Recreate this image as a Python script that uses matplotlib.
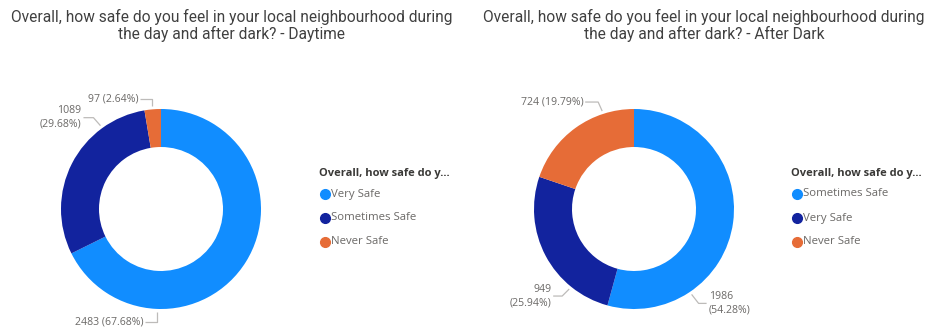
import numpy as np
import matplotlib
matplotlib.use("Agg")
import matplotlib.pyplot as plt
from matplotlib.lines import Line2D

# survey answers, one donut per time of day
day_labels = ["Very Safe", "Sometimes Safe", "Never Safe"]
day_counts = [2483, 1089, 97]

dark_labels = ["Sometimes Safe", "Very Safe", "Never Safe"]
dark_counts = [1986, 949, 724]

colors = ["#118DFF", "#12239E", "#E66C37"]
title_base = "Overall, how safe do you feel in your local neighbourhood during\nthe day and after dark? - "
legend_title = "Overall, how safe do y..."

# leader lines: anchor angle on the ring, elbow offset, tail length, two-line label?
day_leaders = [(268, (0.0, -0.10), -0.12, False),
               (126, (-0.07, 0.08), -0.10, True),
               (95, (0.0, 0.07), -0.12, False)]
dark_leaders = [(304, (0.07, -0.09), 0.08, True),
                (231, (-0.07, -0.07), -0.09, True),
                (108, (-0.04, 0.09), -0.13, False)]

W, H = 931, 331
fig = plt.figure(figsize=(W / 100, H / 100), dpi=100)

label_font = "Open Sans"
grey = "#6B6967"
line_grey = "#BDBBB9"


def donut(cx, cy, counts, leaders):
    # 300px square axes, data range +-1.5 -> 100px per unit
    ax = fig.add_axes([(cx - 150) / W, 1 - (cy + 150) / H, 300 / W, 300 / H])
    ax.pie(counts, colors=colors, startangle=90, counterclock=False,
           radius=1.0, wedgeprops=dict(width=0.38, linewidth=0))
    ax.set_xlim(-1.5, 1.5)
    ax.set_ylim(-1.5, 1.5)
    ax.set_aspect("equal")
    ax.axis("off")
    total = sum(counts)
    for n, (ang, (ex, ey), tail, two) in zip(counts, leaders):
        a = np.deg2rad(ang)
        x0, y0 = 1.03 * np.cos(a), 1.03 * np.sin(a)
        x1, y1 = x0 + ex, y0 + ey
        x2 = x1 + tail
        ax.plot([x0, x1, x2], [y0, y1, y1], color=line_grey, lw=0.9,
                clip_on=False, solid_capstyle="butt")
        pct = 100 * n / total
        sep = "\n" if two else " "
        ha = "left" if tail > 0 else "right"
        dx = 0.02 if tail > 0 else -0.02
        ax.text(x2 + dx, y1, f"{n}{sep}({pct:.2f}%)", ha=ha, va="center",
                fontsize=7.6, color=grey, family=label_font,
                multialignment=ha, linespacing=1.3)
    return ax


def legend(x, labels):
    fig.text(x / W, 1 - 174 / H, legend_title, fontsize=8, fontweight="bold",
             color="#3A3937", family=label_font, va="center", ha="left")
    for i, (lab, c) in enumerate(zip(labels, colors)):
        y = 1 - (194 + 24 * i) / H
        fig.add_artist(Line2D([(x + 6) / W], [y], marker="o", markersize=7,
                              color=c, linestyle="none"))
        fig.text((x + 12) / W, y, lab, fontsize=8.2, color=grey,
                 family=label_font, va="center", ha="left")


donut(161, 209, day_counts, day_leaders)
donut(634, 209, dark_counts, dark_leaders)

fig.text(232 / W, 1 - 25.5 / H, title_base + "Daytime", ha="center", va="center",
         fontsize=11.2, color="#404040", family="Roboto", linespacing=1.1)
fig.text(704 / W, 1 - 25.5 / H, title_base + "After Dark", ha="center", va="center",
         fontsize=11.2, color="#404040", family="Roboto", linespacing=1.1)

legend(319, day_labels)
legend(791, dark_labels)

fig.savefig("out.png", dpi=100, facecolor="white")
